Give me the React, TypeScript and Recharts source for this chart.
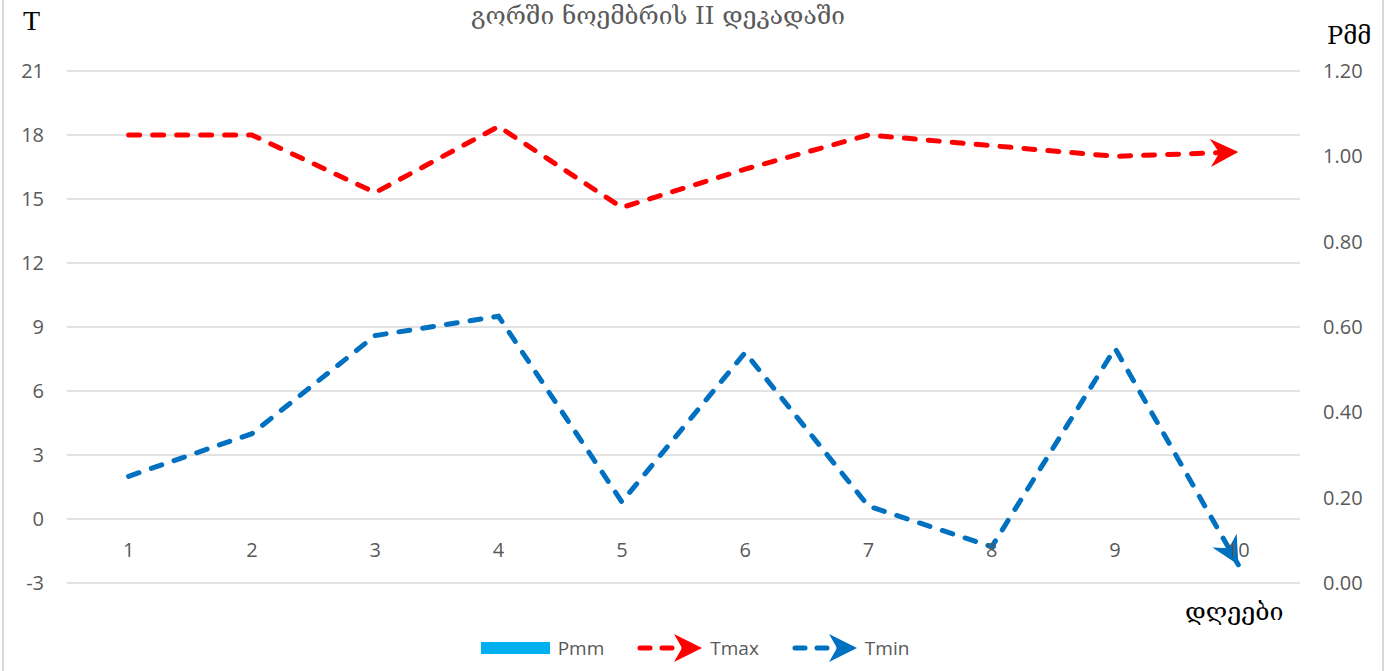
import React from 'react'
import { ComposedChart, Bar, Line, XAxis, YAxis, CartesianGrid, Legend } from 'recharts'

// days of the 2nd decade of November, Gori
const days = ['1', '2', '3', '4', '5', '6', '7', '8', '9', '10']
const pmm = [0, 0, 0, 0, 0, 0, 0, 0, 0, 0]
const tmax = [18, 18, 15.3, 18.4, 14.6, 16.4, 18, 17.5, 17, 17.2]
const tmin = [2, 4, 8.6, 9.5, 0.8, 7.8, 0.6, -1.3, 8, -2.15]
const tTicks = [-3, 0, 3, 6, 9, 12, 15, 18, 21]
const pTicks = [0, 0.2, 0.4, 0.6, 0.8, 1, 1.2]

const data = days.map((d, i) => ({ day: d, Pmm: pmm[i], Tmax: tmax[i], Tmin: tmin[i] }))

const RED = '#FF0000'
const BLUE = '#0070C0'
const CYAN = '#00B0F0'
const GREY = '#595959'
const FONT = '"Open Sans", "Noto Sans", sans-serif'
const GEO = '"DejaVu Serif", "DejaVu Sans", serif'

const DayTick = (props: any) => {
    const { x, y, payload } = props
    // excel draws the category labels under the 0 line
    return (
        <text x={x} y={y - 26} textAnchor="middle" fill={GREY} fontSize={20} fontFamily={FONT}>
            {payload.value}
        </text>
    )
}

const ArrowIcon = ({ color }: { color: string }) => (
    <svg width={66} height={28} style={{ display: 'block' }}>
        <line x1={4} y1={14} x2={50} y2={14} stroke={color} strokeWidth={5} strokeDasharray="10 12" strokeLinecap="round" />
        <path d="M38,0 L66,14 L38,28 L46,14 Z" fill={color} />
    </svg>
)

const renderLegend = (props: any) => {
    const { payload } = props
    return (
        <div style={{ display: 'flex', justifyContent: 'center', alignItems: 'center', gap: 32, fontFamily: FONT, fontSize: 19, color: GREY, paddingLeft: 2 }}>
            {payload.map((p: any) => (
                <div key={p.value} style={{ display: 'flex', alignItems: 'center', gap: 8 }}>
                    {p.dataKey === 'Pmm'
                        ? <span style={{ display: 'inline-block', width: 69, height: 12, background: CYAN }} />
                        : <ArrowIcon color={p.color} />}
                    <span>{p.value}</span>
                </div>
            ))}
        </div>
    )
}

export default function App() {
    return (
        <div style={{ position: 'absolute', left: 0, top: 0, width: 1388, height: 671, background: '#fff', overflow: 'hidden' }}>
            <div style={{ position: 'absolute', left: 2, top: -10, width: 1378, height: 700, border: '2px solid #d9d9d9' }} />
            <ComposedChart width={1388} height={671} data={data} margin={{ top: 71, right: 0, left: 0, bottom: 58 }}>
                <defs>
                    <marker id="arrRed" viewBox="0 0 28 28" markerWidth={28} markerHeight={28} refX={28} refY={14} orient="auto" markerUnits="userSpaceOnUse">
                        <path d="M0,0 L28,14 L0,28 L9,14 Z" fill={RED} />
                    </marker>
                    <marker id="arrBlue" viewBox="0 0 28 28" markerWidth={28} markerHeight={28} refX={28} refY={14} orient="auto" markerUnits="userSpaceOnUse">
                        <path d="M0,0 L28,14 L0,28 L9,14 Z" fill={BLUE} />
                    </marker>
                </defs>
                <CartesianGrid yAxisId="left" vertical={false} stroke="#d9d9d9" strokeWidth={1.5} />
                <XAxis dataKey="day" height={30} axisLine={false} tickLine={false} tickSize={0} tickMargin={0} tick={<DayTick />} interval={0} />
                <YAxis yAxisId="left" domain={[-3, 21]} ticks={tTicks} width={67} axisLine={false} tickLine={false} tickMargin={17}
                    tick={{ fill: GREY, fontSize: 20, fontFamily: FONT }} />
                <YAxis yAxisId="right" orientation="right" domain={[0, 1.2]} ticks={pTicks} width={88} axisLine={false} tickLine={false} tickMargin={17}
                    tickFormatter={(v: number) => v.toFixed(2)} tick={{ fill: GREY, fontSize: 20, fontFamily: FONT, textAnchor: 'start' }} />
                <Bar yAxisId="right" dataKey="Pmm" name="Pmm" fill={CYAN} isAnimationActive={false} />
                <Line yAxisId="left" type="linear" dataKey="Tmax" name="Tmax" stroke={RED} strokeWidth={5} strokeDasharray="11 13"
                    strokeLinecap="round" dot={false} activeDot={false} markerEnd="url(#arrRed)" isAnimationActive={false} />
                <Line yAxisId="left" type="linear" dataKey="Tmin" name="Tmin" stroke={BLUE} strokeWidth={5} strokeDasharray="11 13"
                    strokeLinecap="round" dot={false} activeDot={false} markerEnd="url(#arrBlue)" isAnimationActive={false} />
                <Legend verticalAlign="middle" layout="horizontal" content={renderLegend}
                    wrapperStyle={{ position: 'absolute', left: 0, top: 634, width: 1388, height: 28 }} />
            </ComposedChart>
            <svg width={1388} height={671} style={{ position: 'absolute', left: 0, top: 0, pointerEvents: 'none' }}>
                <text x={658} y={24} textAnchor="middle" fill={GREY} fontSize={24.5} fontFamily={GEO}>გორში ნოემბრის II დეკადაში</text>
                <text x={23} y={30} fill="#000" fontSize={28} fontFamily='"Liberation Serif", serif'>T</text>
                <text x={1327} y={44} fill="#000" fontSize={24} fontFamily={GEO}>Pმმ</text>
                <text x={1185} y={620} fill="#000" fontSize={25} fontFamily={GEO}>დღეები</text>
            </svg>
        </div>
    )
}
